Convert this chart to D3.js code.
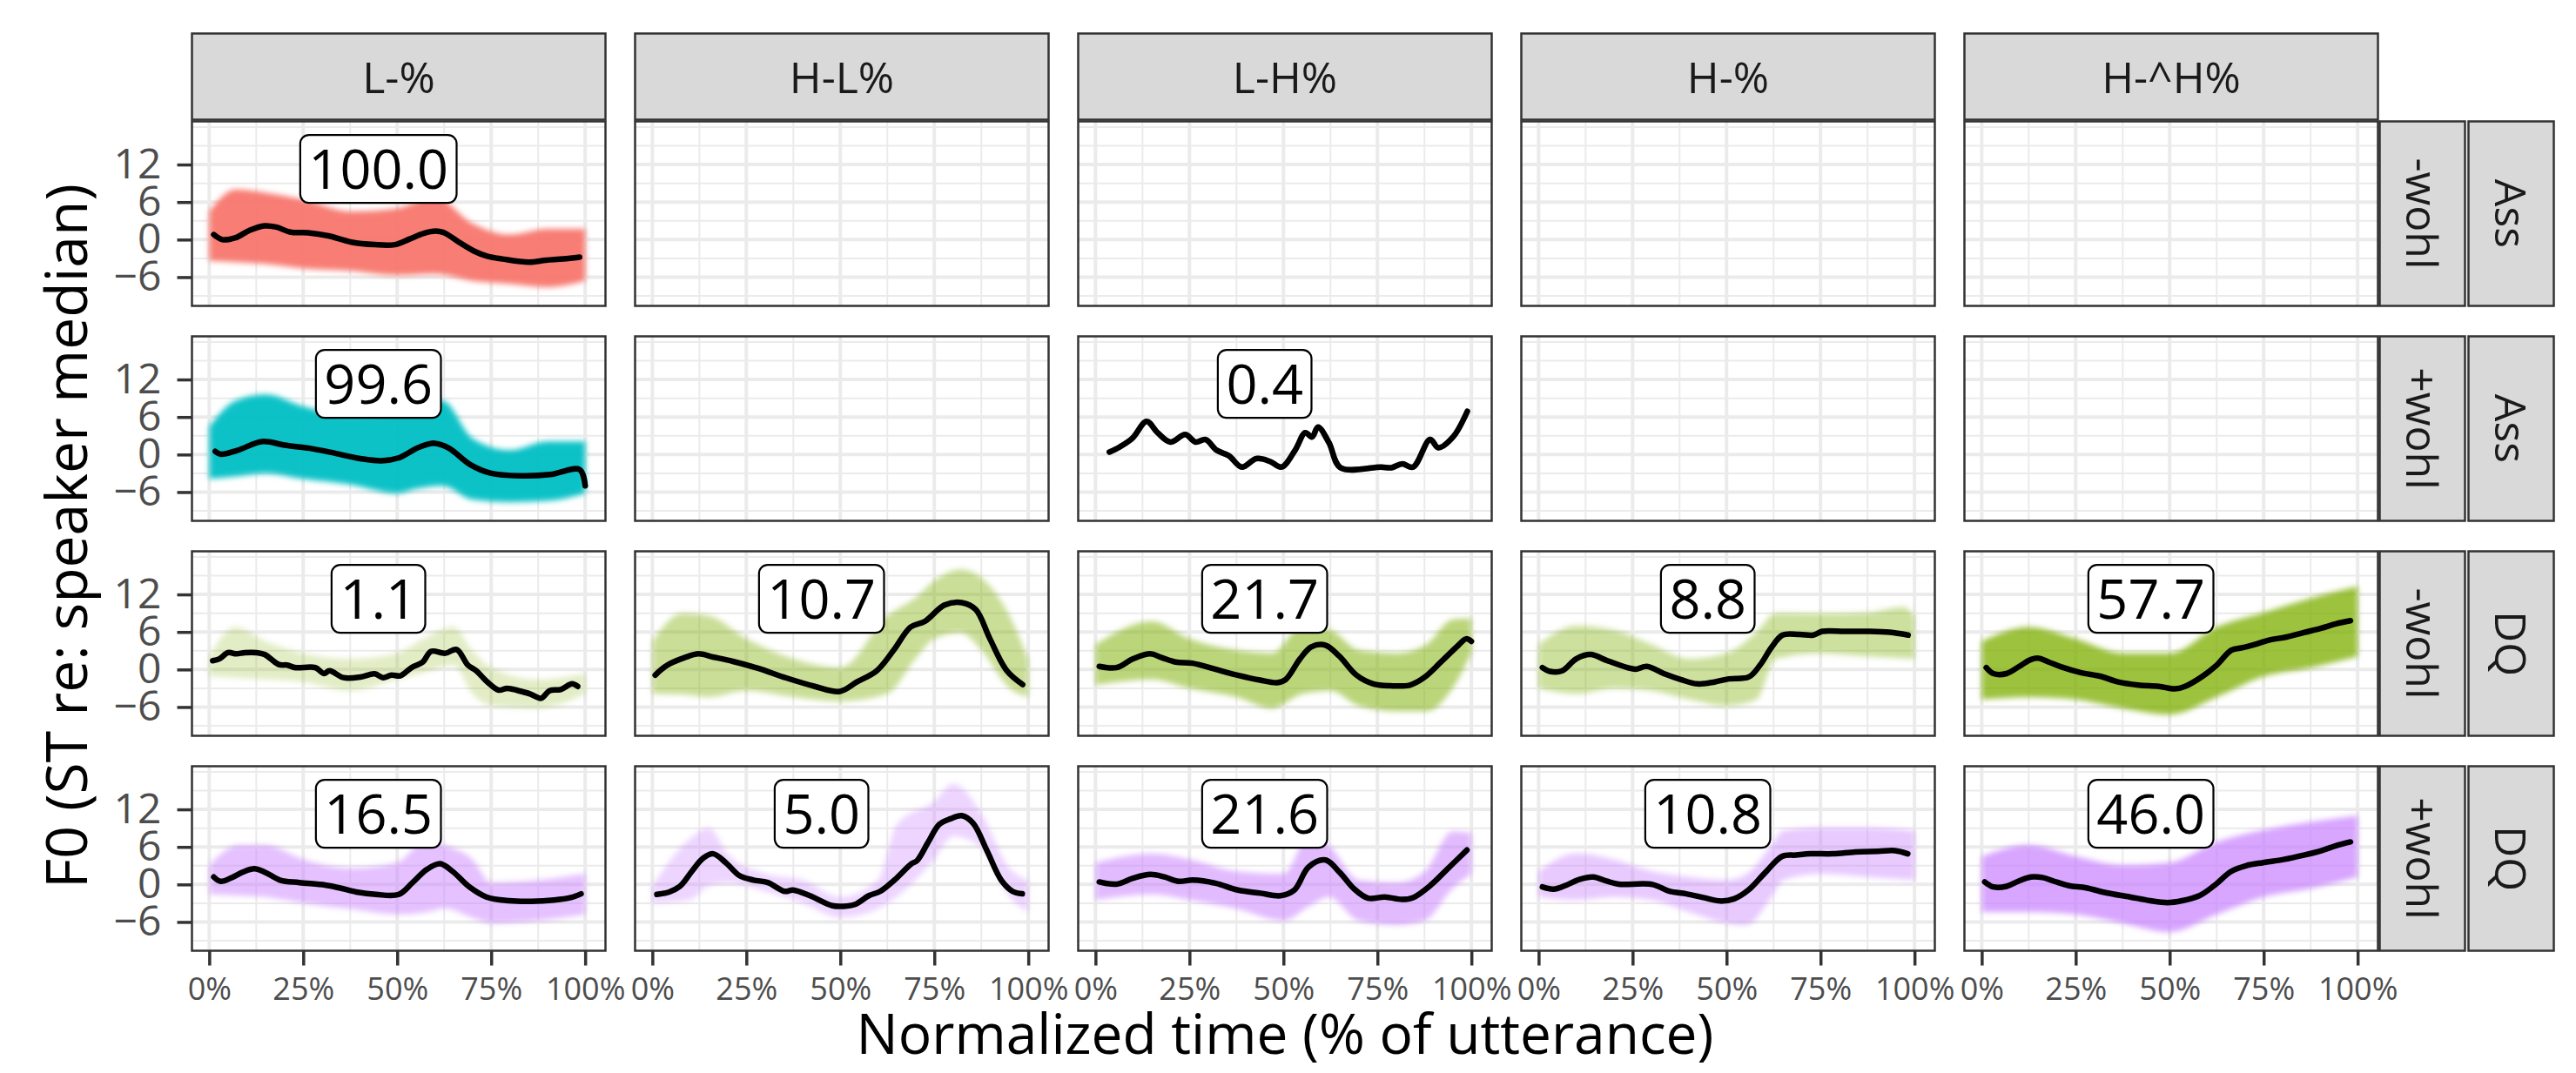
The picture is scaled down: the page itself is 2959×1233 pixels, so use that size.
<!DOCTYPE html>
<html lang="en">
<head>
    <meta charset="UTF-8">
    <title>F0 contours by accent and condition</title>
    <script src="https://d3js.org/d3.v7.min.js"></script>
    <style>
        body { margin: 0; background: #fff; }
        svg { display: block; font-family: "Open Sans", "Noto Sans", sans-serif; }
        .grid-major { stroke: #EBEBEB; stroke-width: 4; }
        .grid-minor { stroke: #EBEBEB; stroke-width: 2; }
        .frame { fill: none; stroke: #333333; stroke-width: 2.5; }
        .strip { fill: #D9D9D9; stroke: #333333; stroke-width: 2.5; }
        .strip-text { font-size: 50px; fill: #1A1A1A; }
        .axis text { fill: #4D4D4D; font-family: "Open Sans", sans-serif; }
        .axis line { stroke: #333333; stroke-width: 3.5; }
        .axis path { display: none; }
        .mean { fill: none; stroke: #000; stroke-width: 6.5; stroke-linejoin: round; stroke-linecap: round; }
    </style>
</head>
<body>
<script>
    // facet levels
    const accents = ["L-%", "H-L%", "L-H%", "H-%", "H-^H%"];
    const wohlLevels = ["-wohl", "+wohl", "-wohl", "+wohl"];
    const typeLevels = ["Ass", "Ass", "DQ", "DQ"];
    const xTicks = [0, 25, 50, 75, 100];
    const yTicks = [-6, 0, 6, 12];

    // mean contours [time %, ST]
    const meanAssMinusL = [[1.2,0.8],[3.5,0],[7,0.3],[10.8,1.5],[14.7,2.2],[17.8,2.0],[21.6,1.2],[26.3,1.1],[31.7,0.6],[37.8,-0.4],[44,-0.8],[49.4,-0.8],[53.3,0.1],[57.1,1.0],[60.2,1.35],[62.5,1.1],[66.4,-0.4],[70.3,-1.8],[74.1,-2.7],[78,-3.1],[85,-3.6],[89.6,-3.3],[94.2,-3.1],[98.5,-2.8]];
    const meanAssPlusL = [[1.6,0.5],[3.1,0.05],[7.6,0.7],[14.3,2.1],[20,1.5],[26.7,1.0],[33.5,0.2],[40.2,-0.65],[45.8,-1.0],[50.3,-0.55],[55.9,1.2],[60,1.8],[63.8,1.0],[69.4,-1.6],[75,-3.0],[82.8,-3.4],[90.7,-3.2],[98.5,-2.4],[100,-5.0]];
    const meanAssPlusLH = [[3.7,0.4],[6.4,1.2],[9.8,2.6],[13.6,5.3],[16.5,3.5],[19.9,2.0],[23.9,3.2],[26.6,2.0],[29.3,2.4],[32.2,0.7],[35.5,-0.2],[38.9,-2.0],[42.8,-0.65],[46.4,-1.1],[49.5,-2.0],[53.1,0.7],[55.8,3.5],[57.6,2.8],[59.2,4.4],[62.1,1.9],[65.2,-2.1],[76,-2.0],[78.7,-2.1],[81.6,-1.5],[84.5,-2.0],[89,2.4],[91.2,1.1],[95.1,2.8],[98.9,6.9]];
    const meanDQMinusL = [[0.9,1.4],[2.7,1.7],[5,2.7],[7.2,2.5],[9.5,2.7],[12.5,2.7],[14.7,2.4],[18.5,0.8],[20.7,0.7],[23,0.3],[28.2,0.3],[30.5,-0.65],[32,-0.2],[35.7,-1.3],[40.2,-1.2],[44,-0.7],[46.2,-1.3],[48.5,-0.9],[50.8,-1.0],[53.8,0.3],[56.8,1.2],[59,2.9],[62.8,2.6],[65.8,3.2],[68.8,0.7],[71,-0.2],[74,-2.0],[77,-3.3],[79.3,-3.0],[82.3,-3.4],[85.3,-3.9],[88.3,-4.6],[90.5,-3.4],[93.5,-3.2],[96.5,-2.3],[98,-2.7]];
    const meanDQMinusHL = [[0.75,-0.9],[4,0.7],[8.6,1.9],[12.3,2.5],[16.1,2.0],[21.4,1.3],[28.1,0.2],[35.6,-1.35],[43.2,-2.7],[49.9,-3.5],[54.4,-2.0],[59.7,-0.2],[64.2,3.1],[68.7,6.8],[72.5,7.7],[77.7,10.3],[82.3,10.7],[86,9.6],[89.8,4.9],[94.3,-0.2],[98.5,-2.4]];
    const meanDQMinusLH = [[1,0.5],[5.6,0.3],[10,1.7],[14.6,2.5],[17.6,1.9],[21.3,1.2],[25.8,1.0],[31.8,0.05],[37.8,-0.9],[43.8,-1.7],[48.3,-2.1],[50.6,-1.6],[54.4,1.7],[57.4,3.6],[61.1,3.9],[64.9,2.1],[69.4,-0.9],[73.9,-2.3],[78.4,-2.6],[83.6,-2.5],[87.4,-1.3],[91.9,1.2],[96.4,3.8],[98.6,4.9],[100,4.5]];
    const meanDQMinusH = [[1,0.3],[3,-0.3],[6.3,-0.2],[10,1.7],[13.8,2.4],[18.3,1.4],[23.6,0.3],[25.8,0.05],[28.8,0.5],[33.3,-0.65],[37.8,-1.6],[42.3,-2.3],[46.8,-2.0],[50.6,-1.5],[55.9,-1.2],[58.9,0.7],[61.9,3.5],[64.9,5.5],[69.4,5.6],[73.1,5.5],[75.4,6.1],[81.4,6.1],[87.4,6.1],[93.4,5.95],[98.3,5.5]];
    const meanDQMinusHH = [[1.2,0.3],[3.1,-0.65],[6.6,-0.65],[10,0.5],[13.1,1.6],[15.1,1.8],[17.8,1.2],[21.2,0.4],[26.3,-0.5],[31.7,-1.1],[36.3,-2.0],[41.7,-2.5],[47.1,-2.7],[51.4,-3.1],[54.1,-2.7],[58.7,-1.1],[62.5,0.7],[66.4,3.1],[69.5,3.5],[72.6,4.0],[76.4,4.7],[81.1,5.2],[85.7,5.9],[90.3,6.6],[94.2,7.3],[98.1,7.8]];
    const meanDQPlusL = [[1.2,1.2],[3,0.5],[6,1.1],[9,2.0],[12,2.5],[15,1.9],[18.8,0.7],[24,0.3],[30.8,-0.1],[34.6,-0.55],[39.1,-1.2],[44.4,-1.6],[50.4,-1.6],[54.1,0.3],[57.9,2.4],[61.4,3.3],[64.7,2.1],[69.2,-0.4],[73.7,-2.0],[79.7,-2.6],[85.7,-2.7],[91.7,-2.5],[96.2,-2.1],[98.9,-1.5]];
    const meanDQPlusHL = [[1.2,-1.6],[4.5,-1.2],[7.5,-0.2],[10.5,2.1],[13.5,4.2],[16.2,4.9],[19.5,3.5],[23.2,1.4],[26.9,0.7],[30.7,0.3],[35.2,-1.1],[37.4,-0.9],[41.9,-1.8],[47.9,-3.4],[50.9,-3.5],[53.9,-3.2],[57.6,-1.8],[60.6,-1.1],[64.4,0.7],[68.9,3.3],[70.4,3.8],[73.4,6.8],[76.3,9.6],[79.3,10.5],[82.3,11.0],[85.3,9.8],[89,5.4],[92.8,0.7],[95.8,-1.1],[98.4,-1.5]];
    const meanDQPlusLH = [[1,0.4],[5.6,0.05],[10,1.0],[14.6,1.6],[18.3,1.2],[22.1,0.5],[25.9,0.7],[31.9,0.2],[37.9,-0.9],[43.9,-1.4],[49.2,-1.8],[52.9,-0.9],[56.7,2.8],[61.2,3.9],[65,1.9],[68.7,-0.65],[72.5,-2.2],[77,-2.0],[81.5,-2.4],[84.5,-2.1],[89,-0.2],[93.5,2.4],[98.8,5.5]];
    const meanDQPlusH = [[1,-0.4],[4,-0.75],[7,-0.2],[10.8,0.8],[14.5,1.2],[18.3,0.5],[21.3,0.05],[30.3,0],[34.8,-1.1],[39.3,-1.5],[43.8,-2.1],[48.3,-2.65],[52,-2.3],[55.8,-0.9],[60.3,1.9],[64.8,4.5],[68.5,4.7],[72.3,4.9],[78.3,4.9],[84.3,5.2],[90.3,5.3],[94.8,5.4],[98.2,4.9]];
    const meanDQPlusHH = [[0.8,0.4],[3.1,-0.4],[6.6,-0.3],[9.7,0.5],[13.1,1.2],[16.2,1.1],[19.3,0.5],[23.2,-0.2],[27.8,-0.55],[33.2,-1.35],[39.4,-2.0],[44.8,-2.6],[49.4,-2.9],[53.3,-2.6],[57.9,-1.8],[61.8,-0.2],[66.4,2.1],[70.3,3.0],[74.9,3.5],[80.3,4.0],[85.7,4.7],[90.3,5.4],[94.2,6.2],[98.1,6.8]];

    // spread of the individual contours [time %, low ST, high ST]
    const bandAssMinusL = [[0,-3.4,4.5],[7,-3.6,8],[15,-3.9,7.5],[25,-4.6,6.4],[37.5,-5,4.5],[50,-5.7,5],[60,-5.5,6.8],[70,-6.6,2.6],[80,-7.1,0.8],[90,-7.6,1.7],[100,-6.6,1.7]];
    const bandAssPlusL = [[0,-3.9,4.5],[7,-3.5,8.6],[15,-3,9.6],[25,-3.9,7.7],[37.5,-4.8,6.3],[50,-6.2,7],[55,-5.5,8.6],[62,-5,8.6],[70,-7.2,2.6],[80,-7.6,0.7],[90,-7.4,2.1],[100,-6.2,2.1]];
    const bandDQMinusL = [[0,-1.1,2.1],[7,-1.3,6.8],[15,-1.6,4.5],[25,-2,2.6],[37.5,-3.4,1.7],[50,-1.6,2.6],[57,-0.5,4.9],[65,0.7,6.8],[70,-3.9,3],[75,-5.8,0.3],[87.5,-6.2,-1.6],[100,-3.9,-0.65]];
    const bandDQMinusHL = [[0,-3.9,4.5],[8,-4,9],[15,-4.4,8.6],[25,-3.4,4.9],[37.5,-4.4,1.7],[50,-5.1,0.3],[62.5,-3.9,8.6],[70,1.7,11.5],[75,4.9,14.2],[82,5.9,16],[87.5,3.1,14.7],[95,-3,8.6],[100,-4.4,1.7]];
    const bandDQMinusLH = [[0,-2.5,4],[15,-1.6,7.7],[25,-3,4.9],[37.5,-4.4,3.1],[47,-6.2,2.6],[55,-3.9,7],[62.5,-3.4,6.3],[70,-5.8,3.1],[80,-6.7,2.6],[88,-6.7,4],[95,-3,8],[100,2.6,8.2]];
    const bandDQMinusH = [[0,-3,4],[10,-3.9,7],[20,-3,6.3],[30,-3.4,4],[40,-4.8,1.7],[50,-5.8,2.6],[58,-4.8,6],[63,1.7,9],[75,2.6,8.9],[87.5,2.1,9.1],[97,1.8,10],[100,1.7,8.6]];
    const bandDQMinusHH = [[0,-4.8,4.5],[12.5,-4.4,6.8],[25,-4.8,4.9],[37.5,-6.2,2.6],[50,-7.2,2.6],[62.5,-4.4,6.8],[75,-1.1,9.1],[87.5,0.3,11.4],[100,2.1,13.3]];
    const bandDQPlusL = [[0,-1.6,3.1],[8,-1.8,6.3],[15,-2,6.3],[25,-3,4],[37.5,-3.9,2.6],[50,-4.8,3.5],[58,-4.4,7.3],[62.5,-3.8,6.3],[70,-5.3,4],[75,-6.2,0.3],[87.5,-5.8,0.7],[100,-4.8,1.7]];
    const bandDQPlusHL = [[0,-3,-0.2],[10,-2.5,7.3],[15,-0.2,9.1],[20,0.3,4.9],[30,-1.1,1.7],[40,-3,0.7],[50,-5.3,-2],[60,-3.9,0.7],[65,-2,9.6],[75,4,13.3],[80,7.7,16.1],[87.5,5.9,11.4],[95,-2,2.6],[100,-4.4,0.7]];
    const bandDQPlusLH = [[0,-2.5,3.5],[15,-1.6,4.9],[25,-2.5,4],[37.5,-3.9,2.1],[50,-5.8,1.7],[57,-3.4,8],[62,-2,6.3],[70,-5.8,0.7],[80,-6.5,0.3],[87.5,-5.8,2],[95,-0.65,8.5],[100,1.7,8.2]];
    const bandDQPlusH = [[0,-2,2.1],[10,-2.5,5],[20,-2,4],[30,-2.5,2.1],[40,-4.4,1.2],[50,-6.2,0.7],[55,-6.5,1.5],[62,-2,6.3],[65,0.7,8.6],[75,1.7,9.1],[87.5,1.2,9.1],[100,0.7,8.6]];
    const bandDQPlusHH = [[0,-4.4,4.5],[12.5,-4.4,6.3],[25,-4.8,4.5],[37.5,-6.2,3.1],[50,-7.6,3.5],[62.5,-4.8,6.8],[75,-2,8.7],[87.5,-0.65,10],[100,1.2,11]];

    // share of contours (%) per facet
    const shareAssMinus = [100.0, null, null, null, null];
    const shareAssPlus = [99.6, null, 0.4, null, null];
    const shareDQMinus = [1.1, 10.7, 21.7, 8.8, 57.7];
    const shareDQPlus = [16.5, 5.0, 21.6, 10.8, 46.0];

    const shares = [shareAssMinus, shareAssPlus, shareDQMinus, shareDQPlus];
    const means = [
        [meanAssMinusL, null, null, null, null],
        [meanAssPlusL, null, meanAssPlusLH, null, null],
        [meanDQMinusL, meanDQMinusHL, meanDQMinusLH, meanDQMinusH, meanDQMinusHH],
        [meanDQPlusL, meanDQPlusHL, meanDQPlusLH, meanDQPlusH, meanDQPlusHH]
    ];
    const bands = [
        [bandAssMinusL, null, null, null, null],
        [bandAssPlusL, null, null, null, null],
        [bandDQMinusL, bandDQMinusHL, bandDQMinusLH, bandDQMinusH, bandDQMinusHH],
        [bandDQPlusL, bandDQPlusHL, bandDQPlusLH, bandDQPlusH, bandDQPlusHH]
    ];

    const rowColors = ["#F8766D", "#00BFC4", "#7CAE00", "#C77CFF"];

    // layout
    const width = 2959, height = 1233;
    const panelLeft = 220.5, panelTop = 139.5;
    const pw = 475, ph = 212, dx = 509, dy = 247;
    const stripH = 99, stripW = 98;

    const x = d3.scaleLinear().domain([-4.6, 105.4]).range([0, pw]);
    const y = d3.scaleLinear().domain([-10.6, 18.9]).range([ph, 0]);
    const alpha = d3.scaleSqrt().domain([0, 100]).range([0.14, 0.95]);

    const svg = d3.select("body").append("svg")
        .attr("width", width)
        .attr("height", height);

    const defs = svg.append("defs");
    defs.append("filter").attr("id", "soft")
        .attr("x", "-5%").attr("y", "-20%").attr("width", "110%").attr("height", "140%")
        .append("feGaussianBlur").attr("stdDeviation", 3);
    defs.append("clipPath").attr("id", "panel-clip")
        .append("rect").attr("width", pw).attr("height", ph);

    const line = d3.line()
        .x(d => x(d[0]))
        .y(d => y(d[1]))
        .curve(d3.curveCatmullRom.alpha(0.5));

    const area = d3.area()
        .x(d => x(d[0]))
        .y0(d => y(d[1]))
        .y1(d => y(d[2]))
        .curve(d3.curveMonotoneX);

    const minorX = [12.5, 37.5, 62.5, 87.5];
    const minorY = [-9, -3, 3, 9, 15, 18];

    wohlLevels.forEach((wohl, r) => {
        accents.forEach((acc, c) => {
            const g = svg.append("g")
                .attr("transform", `translate(${panelLeft + c * dx},${panelTop + r * dy})`);

            g.selectAll(".gmy").data(minorY).enter().append("line")
                .attr("class", "grid-minor")
                .attr("x1", 0).attr("x2", pw)
                .attr("y1", d => y(d)).attr("y2", d => y(d));
            g.selectAll(".gmx").data(minorX).enter().append("line")
                .attr("class", "grid-minor")
                .attr("y1", 0).attr("y2", ph)
                .attr("x1", d => x(d)).attr("x2", d => x(d));
            g.selectAll(".gMy").data(yTicks).enter().append("line")
                .attr("class", "grid-major")
                .attr("x1", 0).attr("x2", pw)
                .attr("y1", d => y(d)).attr("y2", d => y(d));
            g.selectAll(".gMx").data(xTicks).enter().append("line")
                .attr("class", "grid-major")
                .attr("y1", 0).attr("y2", ph)
                .attr("x1", d => x(d)).attr("x2", d => x(d));

            const inner = g.append("g").attr("clip-path", "url(#panel-clip)");
            const share = shares[r][c];
            const band = bands[r][c];
            const mean = means[r][c];

            if (band) {
                inner.append("path")
                    .datum(band)
                    .attr("d", area)
                    .attr("fill", rowColors[r])
                    .attr("fill-opacity", alpha(share))
                    .attr("filter", "url(#soft)");
            }
            if (mean) {
                if (!band) {
                    // a single contour: its own trace under the mean
                    inner.append("path")
                        .datum(mean)
                        .attr("class", "mean")
                        .attr("d", line)
                        .attr("stroke", rowColors[r])
                        .attr("stroke-width", 11)
                        .attr("stroke-opacity", 0.35);
                }
                inner.append("path")
                    .datum(mean)
                    .attr("class", "mean")
                    .attr("d", line);
            }

            g.append("rect")
                .attr("class", "frame")
                .attr("width", pw).attr("height", ph);

            if (share !== null) {
                const lab = g.append("g")
                    .attr("transform", `translate(${x(45)},${y(11.3)})`);
                const txt = lab.append("text")
                    .attr("text-anchor", "middle")
                    .attr("y", 22.5)
                    .style("font-size", "63px")
                    .attr("fill", "#000")
                    .text(share.toFixed(1));
                const bw = txt.node().getBBox().width + 19;
                lab.insert("rect", "text")
                    .attr("x", -bw / 2).attr("y", -39)
                    .attr("width", bw).attr("height", 78)
                    .attr("rx", 10).attr("ry", 10)
                    .attr("fill", "#fff")
                    .attr("stroke", "#000")
                    .attr("stroke-width", 2.2);
            }

            if (c === 0) {
                g.append("g")
                    .attr("class", "axis")
                    .call(d3.axisLeft(y).tickValues(yTicks).tickSize(17).tickPadding(18))
                    .selectAll("text").style("font-size", "48px");
            }
            if (r === wohlLevels.length - 1) {
                g.append("g")
                    .attr("class", "axis")
                    .attr("transform", `translate(0,${ph})`)
                    .call(d3.axisBottom(x).tickValues(xTicks).tickSize(17).tickPadding(14)
                        .tickFormat(d => d + "%"))
                    .selectAll("text").style("font-size", "36px");
            }
        });
    });

    // top strips
    accents.forEach((acc, c) => {
        const sg = svg.append("g")
            .attr("transform", `translate(${panelLeft + c * dx},${panelTop - stripH - 2})`);
        sg.append("rect").attr("class", "strip").attr("width", pw).attr("height", stripH);
        sg.append("text").attr("class", "strip-text")
            .attr("x", pw / 2).attr("y", stripH / 2)
            .attr("text-anchor", "middle")
            .attr("dominant-baseline", "central")
            .text(acc);
    });

    // right strips
    const rightX = panelLeft + 4 * dx + pw + 2;
    wohlLevels.forEach((wohl, r) => {
        [wohl, typeLevels[r]].forEach((lab, k) => {
            const sx = rightX + k * (stripW + 4);
            const sg = svg.append("g")
                .attr("transform", `translate(${sx},${panelTop + r * dy})`);
            sg.append("rect").attr("class", "strip").attr("width", stripW).attr("height", ph);
            sg.append("text").attr("class", "strip-text")
                .attr("transform", `translate(${stripW / 2},${ph / 2}) rotate(90)`)
                .attr("text-anchor", "middle")
                .attr("dominant-baseline", "central")
                .text(lab);
        });
    });

    // axis titles
    const panelsMid = panelLeft + (4 * dx + pw) / 2;
    svg.append("text")
        .attr("x", panelsMid).attr("y", 1211)
        .attr("text-anchor", "middle")
        .style("font-size", "64px")
        .text("Normalized time (% of utterance)");

    svg.append("text")
        .attr("transform", `translate(100,${panelTop + (3 * dy + ph) / 2}) rotate(-90)`)
        .attr("text-anchor", "middle")
        .style("font-size", "66px")
        .text("F0 (ST re: speaker median)");
</script>
</body>
</html>
